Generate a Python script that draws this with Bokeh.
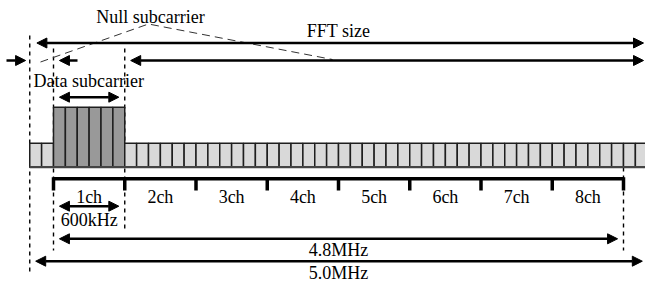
from bokeh.plotting import figure
from bokeh.models import Range1d, Arrow, NormalHead
from bokeh.core.properties import value
from bokeh.embed import file_html
from bokeh.resources import INLINE

# ---------------- data ----------------
# subcarrier structure (one unit = one subcarrier)
null_left_count = 2
channel_labels = ["1ch", "2ch", "3ch", "4ch", "5ch", "6ch", "7ch", "8ch"]
subcarriers_per_channel = 6
null_right_count = 2
# relative level of each subcarrier (null / idle = 1, loaded data = 2.5)
null_left_level = [1.0, 1.0]
ch1_level = [2.5, 2.5, 2.5, 2.5, 2.5, 2.5]
other_ch_level = [1.0] * 42
null_right_level = [1.0, 1.0]
levels = null_left_level + ch1_level + other_ch_level + null_right_level
loaded = [False] * 2 + [True] * 6 + [False] * 42 + [False] * 2

channel_bw_label = "600kHz"
occupied_bw_label = "4.8MHz"
total_bw_label = "5.0MHz"
labels_top = ["Null subcarrier", "FFT size", "Data subcarrier"]

# ---------------- layout ----------------
X0_PX = 29.25          # page x of subcarrier 0
CELL_PX = 11.875       # width of one subcarrier
BASE_Y = 166.7         # baseline of the subcarrier row (px, downward)
UNIT_H = 24.0          # px per level unit
GAP = 0.5              # arrow gap to boundary (subcarrier units)
TXT_DY = 5.5           # baseline -> middle offset

W, H = 645, 283
xmin = (0 - X0_PX) / CELL_PX
xmax = (645 - X0_PX) / CELL_PX
p = figure(width=W, height=H, output_backend="svg", toolbar_location=None,
           x_range=Range1d(xmin, xmax), y_range=Range1d(283, 0),
           min_border=0, min_border_left=0, min_border_right=0,
           min_border_top=0, min_border_bottom=0)
p.axis.visible = False
p.grid.visible = False
p.outline_line_color = None
p.background_fill_color = "white"

def px2u(px):
    return (px - X0_PX) / CELL_PX

n_total = len(levels)
data_start = null_left_count
data_end = null_left_count + len(channel_labels) * subcarriers_per_channel
ch1_end = data_start + subcarriers_per_channel
right_end = px2u(643)

# dashed vertical guides (drawn beneath cells)
dash_kw = dict(line_color="black", line_width=1.4, line_dash="4 4")
p.segment(x0=[0], y0=[35], x1=[0], y1=[272], **dash_kw)
p.segment(x0=[data_start], y0=[48], x1=[data_start], y1=[250], **dash_kw)
p.segment(x0=[ch1_end], y0=[48], x1=[ch1_end], y1=[228], **dash_kw)
p.segment(x0=[data_end], y0=[167], x1=[data_end], y1=[250], **dash_kw)

# subcarrier cells
lefts = list(range(n_total))
rights = [i + 1 for i in lefts]
tops = [BASE_Y - lv * UNIT_H for lv in levels]
bottoms = [BASE_Y] * n_total
fills = ["#999999" if ld else "#d9d9d9" for ld in loaded]
p.quad(left=lefts, right=rights, top=tops, bottom=bottoms,
       fill_color=fills, line_color="#1e1e1e", line_width=1.5)
p.segment(x0=[0], y0=[BASE_Y], x1=[n_total], y1=[BASE_Y],
          line_color="#444444", line_width=2.2)

# channel bracket
BR_Y = 178.3
p.segment(x0=[data_start], y0=[BR_Y], x1=[data_end], y1=[BR_Y],
          line_color="black", line_width=3.5)
ticks = [data_start + k * subcarriers_per_channel for k in range(len(channel_labels) + 1)]
p.segment(x0=ticks, y0=[BR_Y - 1.5] * len(ticks), x1=ticks, y1=[190] * len(ticks),
          line_color="black", line_width=3.5)

font = value("Liberation Serif")
fs = "18px"
centers = [data_start + (k + 0.5) * subcarriers_per_channel for k in range(len(channel_labels))]
p.text(x=centers, y=[202 - TXT_DY] * len(centers), text=channel_labels,
       text_font=font, text_font_size=fs, text_align="center",
       text_baseline="middle", text_color="black")

# arrows
def head():
    return NormalHead(size=10, fill_color="black", line_color="black", line_width=1)

def arrow(x0, x1, y, start=True, end=True):
    p.add_layout(Arrow(x_start=x0, x_end=x1, y_start=y, y_end=y,
                       line_color="black", line_width=2.5,
                       start=head() if start else None,
                       end=head() if end else None))

arrow(0 + 0.6, right_end, 42.5)                       # FFT size
arrow(ch1_end + GAP, right_end, 60)                   # long lower
arrow(px2u(6), 0 - 0.35, 60, start=False)             # small -> at left
arrow(px2u(77), data_start + GAP, 60, start=False)    # small <-
arrow(data_start + GAP, ch1_end - GAP, 96.7)          # data subcarrier
arrow(data_start + GAP, ch1_end - GAP, 205.7)         # 1ch
arrow(data_start + GAP, data_end - GAP, 238.3)        # 4.8 MHz
arrow(0 + 0.5, right_end - 0.1, 260.7)                # 5.0 MHz

# Null subcarrier leader lines
p.line(x=[px2u(40), px2u(148), px2u(332)], y=[61.5, 23.5, 59],
       line_color="#333333", line_width=1, line_dash="8 5")

# texts
tx = [px2u(150), px2u(338), px2u(33)]
ty = [22 - TXT_DY, 35.5 - TXT_DY, 86 - TXT_DY]
al = ["center", "center", "left"]
p.text(x=tx, y=ty, text=labels_top, text_font=font, text_font_size=fs,
       text_align=al, text_baseline="middle", text_color="black")
mid = (data_start + data_end) / 2
p.text(x=[centers[0], mid, mid], y=[225 - TXT_DY, 255 - TXT_DY, 277.5 - TXT_DY],
       text=[channel_bw_label, occupied_bw_label, total_bw_label],
       text_font=font, text_font_size=fs, text_align="center",
       text_baseline="middle", text_color="black")

open("out.html", "w").write(file_html(p, INLINE))
